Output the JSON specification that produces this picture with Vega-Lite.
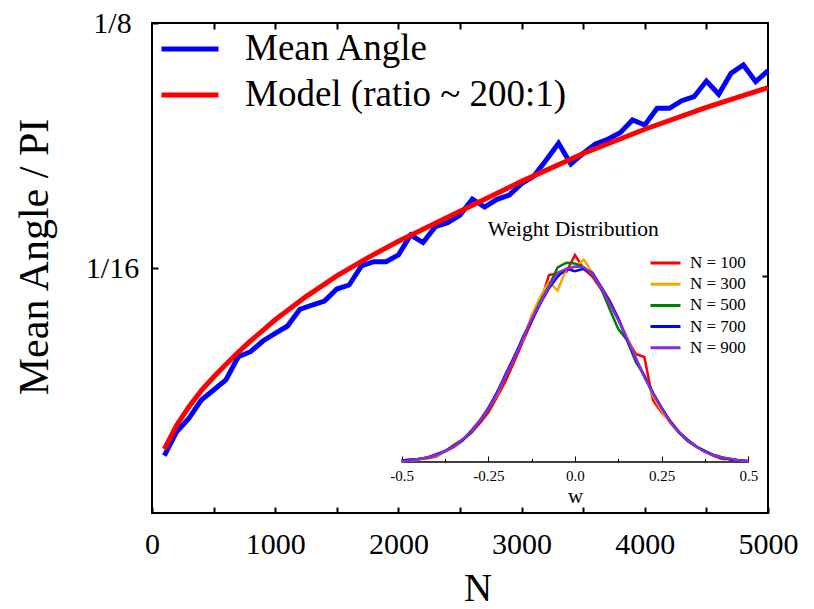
{
  "$schema": "https://vega.github.io/schema/vega-lite/v6.json",
  "width": 616,
  "height": 490,
  "autosize": {"type": "none"},
  "padding": {"left": 152, "top": 23, "right": 46, "bottom": 96},
  "background": "white",
  "config": {
    "font": "Liberation Serif",
    "view": {"stroke": "black", "strokeWidth": 2},
    "axis": {"domain": false, "grid": false, "labelColor": "black", "titleColor": "black", "tickColor": "black", "titleFontWeight": "normal"},
    "legend": {"labelColor": "black", "labelLimit": 1000}
  },
  "datasets": {
    "angle": [
      {"N": 100, "v": 0.01462, "series": "Mean Angle"},
      {"N": 200, "v": 0.02074, "series": "Mean Angle"},
      {"N": 300, "v": 0.02416, "series": "Mean Angle"},
      {"N": 400, "v": 0.02883, "series": "Mean Angle"},
      {"N": 500, "v": 0.03138, "series": "Mean Angle"},
      {"N": 600, "v": 0.03393, "series": "Mean Angle"},
      {"N": 700, "v": 0.03987, "series": "Mean Angle"},
      {"N": 800, "v": 0.04115, "series": "Mean Angle"},
      {"N": 900, "v": 0.04388, "series": "Mean Angle"},
      {"N": 1000, "v": 0.04584, "series": "Mean Angle"},
      {"N": 1100, "v": 0.04770, "series": "Mean Angle"},
      {"N": 1200, "v": 0.05196, "series": "Mean Angle"},
      {"N": 1300, "v": 0.05306, "series": "Mean Angle"},
      {"N": 1400, "v": 0.05408, "series": "Mean Angle"},
      {"N": 1500, "v": 0.05714, "series": "Mean Angle"},
      {"N": 1600, "v": 0.05816, "series": "Mean Angle"},
      {"N": 1700, "v": 0.06301, "series": "Mean Angle"},
      {"N": 1800, "v": 0.06411, "series": "Mean Angle"},
      {"N": 1900, "v": 0.06411, "series": "Mean Angle"},
      {"N": 2000, "v": 0.06582, "series": "Mean Angle"},
      {"N": 2100, "v": 0.07092, "series": "Mean Angle"},
      {"N": 2200, "v": 0.06900, "series": "Mean Angle"},
      {"N": 2300, "v": 0.07304, "series": "Mean Angle"},
      {"N": 2400, "v": 0.07406, "series": "Mean Angle"},
      {"N": 2500, "v": 0.07602, "series": "Mean Angle"},
      {"N": 2600, "v": 0.08010, "series": "Mean Angle"},
      {"N": 2700, "v": 0.07806, "series": "Mean Angle"},
      {"N": 2800, "v": 0.08003, "series": "Mean Angle"},
      {"N": 2900, "v": 0.08112, "series": "Mean Angle"},
      {"N": 3000, "v": 0.08401, "series": "Mean Angle"},
      {"N": 3100, "v": 0.08597, "series": "Mean Angle"},
      {"N": 3200, "v": 0.09005, "series": "Mean Angle"},
      {"N": 3300, "v": 0.09431, "series": "Mean Angle"},
      {"N": 3400, "v": 0.08903, "series": "Mean Angle"},
      {"N": 3500, "v": 0.09176, "series": "Mean Angle"},
      {"N": 3600, "v": 0.09413, "series": "Mean Angle"},
      {"N": 3700, "v": 0.09533, "series": "Mean Angle"},
      {"N": 3800, "v": 0.09702, "series": "Mean Angle"},
      {"N": 3900, "v": 0.10025, "series": "Mean Angle"},
      {"N": 4000, "v": 0.09898, "series": "Mean Angle"},
      {"N": 4100, "v": 0.10324, "series": "Mean Angle"},
      {"N": 4200, "v": 0.10324, "series": "Mean Angle"},
      {"N": 4300, "v": 0.10518, "series": "Mean Angle"},
      {"N": 4400, "v": 0.10620, "series": "Mean Angle"},
      {"N": 4500, "v": 0.11020, "series": "Mean Angle"},
      {"N": 4600, "v": 0.10681, "series": "Mean Angle"},
      {"N": 4700, "v": 0.11217, "series": "Mean Angle"},
      {"N": 4800, "v": 0.11428, "series": "Mean Angle"},
      {"N": 4900, "v": 0.11003, "series": "Mean Angle"},
      {"N": 5000, "v": 0.11283, "series": "Mean Angle"}
    ],
    "model": [
      {"N": 100, "v": 0.0163, "series": "Model (ratio ~ 200:1)"},
      {"N": 200, "v": 0.0224, "series": "Model (ratio ~ 200:1)"},
      {"N": 300, "v": 0.0271, "series": "Model (ratio ~ 200:1)"},
      {"N": 400, "v": 0.0312, "series": "Model (ratio ~ 200:1)"},
      {"N": 500, "v": 0.0347, "series": "Model (ratio ~ 200:1)"},
      {"N": 600, "v": 0.0379, "series": "Model (ratio ~ 200:1)"},
      {"N": 700, "v": 0.0410, "series": "Model (ratio ~ 200:1)"},
      {"N": 800, "v": 0.0439, "series": "Model (ratio ~ 200:1)"},
      {"N": 900, "v": 0.0466, "series": "Model (ratio ~ 200:1)"},
      {"N": 1000, "v": 0.0493, "series": "Model (ratio ~ 200:1)"},
      {"N": 1250, "v": 0.0552, "series": "Model (ratio ~ 200:1)"},
      {"N": 1500, "v": 0.0605, "series": "Model (ratio ~ 200:1)"},
      {"N": 1750, "v": 0.0651, "series": "Model (ratio ~ 200:1)"},
      {"N": 2000, "v": 0.0693, "series": "Model (ratio ~ 200:1)"},
      {"N": 2500, "v": 0.0770, "series": "Model (ratio ~ 200:1)"},
      {"N": 3000, "v": 0.0846, "series": "Model (ratio ~ 200:1)"},
      {"N": 3500, "v": 0.0917, "series": "Model (ratio ~ 200:1)"},
      {"N": 4000, "v": 0.0979, "series": "Model (ratio ~ 200:1)"},
      {"N": 4500, "v": 0.1035, "series": "Model (ratio ~ 200:1)"},
      {"N": 5000, "v": 0.1085, "series": "Model (ratio ~ 200:1)"}
    ],
    "dist": [
      {"s": "N = 100", "w": -0.5, "d": 0.02}, {"s": "N = 100", "w": -0.475, "d": 0.03}, {"s": "N = 100", "w": -0.45, "d": 0.04}, {"s": "N = 100", "w": -0.425, "d": 0.05}, {"s": "N = 100", "w": -0.4, "d": 0.07}, {"s": "N = 100", "w": -0.375, "d": 0.14}, {"s": "N = 100", "w": -0.35, "d": 0.22}, {"s": "N = 100", "w": -0.325, "d": 0.29}, {"s": "N = 100", "w": -0.3, "d": 0.37}, {"s": "N = 100", "w": -0.275, "d": 0.50}, {"s": "N = 100", "w": -0.25, "d": 0.64}, {"s": "N = 100", "w": -0.225, "d": 0.84}, {"s": "N = 100", "w": -0.2, "d": 1.05}, {"s": "N = 100", "w": -0.175, "d": 1.30}, {"s": "N = 100", "w": -0.15, "d": 1.56}, {"s": "N = 100", "w": -0.125, "d": 1.82}, {"s": "N = 100", "w": -0.1, "d": 2.06}, {"s": "N = 100", "w": -0.075, "d": 2.42}, {"s": "N = 100", "w": -0.05, "d": 2.44}, {"s": "N = 100", "w": -0.025, "d": 2.46}, {"s": "N = 100", "w": 0, "d": 2.68}, {"s": "N = 100", "w": 0.025, "d": 2.50}, {"s": "N = 100", "w": 0.05, "d": 2.40}, {"s": "N = 100", "w": 0.075, "d": 2.24}, {"s": "N = 100", "w": 0.1, "d": 2.06}, {"s": "N = 100", "w": 0.125, "d": 1.84}, {"s": "N = 100", "w": 0.15, "d": 1.60}, {"s": "N = 100", "w": 0.175, "d": 1.40}, {"s": "N = 100", "w": 0.2, "d": 1.36}, {"s": "N = 100", "w": 0.225, "d": 0.80}, {"s": "N = 100", "w": 0.25, "d": 0.64}, {"s": "N = 100", "w": 0.275, "d": 0.52}, {"s": "N = 100", "w": 0.3, "d": 0.38}, {"s": "N = 100", "w": 0.325, "d": 0.28}, {"s": "N = 100", "w": 0.35, "d": 0.20}, {"s": "N = 100", "w": 0.375, "d": 0.13}, {"s": "N = 100", "w": 0.4, "d": 0.08}, {"s": "N = 100", "w": 0.425, "d": 0.04}, {"s": "N = 100", "w": 0.45, "d": 0.04}, {"s": "N = 100", "w": 0.475, "d": 0.02}, {"s": "N = 100", "w": 0.5, "d": 0.01},
      {"s": "N = 300", "w": -0.5, "d": 0.01}, {"s": "N = 300", "w": -0.475, "d": 0.02}, {"s": "N = 300", "w": -0.45, "d": 0.03}, {"s": "N = 300", "w": -0.425, "d": 0.06}, {"s": "N = 300", "w": -0.4, "d": 0.08}, {"s": "N = 300", "w": -0.375, "d": 0.13}, {"s": "N = 300", "w": -0.35, "d": 0.19}, {"s": "N = 300", "w": -0.325, "d": 0.27}, {"s": "N = 300", "w": -0.3, "d": 0.40}, {"s": "N = 300", "w": -0.275, "d": 0.54}, {"s": "N = 300", "w": -0.25, "d": 0.70}, {"s": "N = 300", "w": -0.225, "d": 0.87}, {"s": "N = 300", "w": -0.2, "d": 1.13}, {"s": "N = 300", "w": -0.175, "d": 1.38}, {"s": "N = 300", "w": -0.15, "d": 1.58}, {"s": "N = 300", "w": -0.125, "d": 1.90}, {"s": "N = 300", "w": -0.1, "d": 2.14}, {"s": "N = 300", "w": -0.075, "d": 2.33}, {"s": "N = 300", "w": -0.05, "d": 2.22}, {"s": "N = 300", "w": -0.025, "d": 2.50}, {"s": "N = 300", "w": 0, "d": 2.52}, {"s": "N = 300", "w": 0.025, "d": 2.62}, {"s": "N = 300", "w": 0.05, "d": 2.45}, {"s": "N = 300", "w": 0.075, "d": 2.28}, {"s": "N = 300", "w": 0.1, "d": 2.10}, {"s": "N = 300", "w": 0.125, "d": 1.85}, {"s": "N = 300", "w": 0.15, "d": 1.62}, {"s": "N = 300", "w": 0.175, "d": 1.35}, {"s": "N = 300", "w": 0.2, "d": 1.12}, {"s": "N = 300", "w": 0.225, "d": 0.86}, {"s": "N = 300", "w": 0.25, "d": 0.66}, {"s": "N = 300", "w": 0.275, "d": 0.50}, {"s": "N = 300", "w": 0.3, "d": 0.38}, {"s": "N = 300", "w": 0.325, "d": 0.29}, {"s": "N = 300", "w": 0.35, "d": 0.20}, {"s": "N = 300", "w": 0.375, "d": 0.13}, {"s": "N = 300", "w": 0.4, "d": 0.09}, {"s": "N = 300", "w": 0.425, "d": 0.06}, {"s": "N = 300", "w": 0.45, "d": 0.03}, {"s": "N = 300", "w": 0.475, "d": 0.02}, {"s": "N = 300", "w": 0.5, "d": 0.01},
      {"s": "N = 500", "w": -0.5, "d": 0.01}, {"s": "N = 500", "w": -0.475, "d": 0.02}, {"s": "N = 500", "w": -0.45, "d": 0.04}, {"s": "N = 500", "w": -0.425, "d": 0.06}, {"s": "N = 500", "w": -0.4, "d": 0.09}, {"s": "N = 500", "w": -0.375, "d": 0.14}, {"s": "N = 500", "w": -0.35, "d": 0.21}, {"s": "N = 500", "w": -0.325, "d": 0.28}, {"s": "N = 500", "w": -0.3, "d": 0.38}, {"s": "N = 500", "w": -0.275, "d": 0.52}, {"s": "N = 500", "w": -0.25, "d": 0.68}, {"s": "N = 500", "w": -0.225, "d": 0.90}, {"s": "N = 500", "w": -0.2, "d": 1.10}, {"s": "N = 500", "w": -0.175, "d": 1.35}, {"s": "N = 500", "w": -0.15, "d": 1.62}, {"s": "N = 500", "w": -0.125, "d": 1.84}, {"s": "N = 500", "w": -0.1, "d": 2.08}, {"s": "N = 500", "w": -0.075, "d": 2.28}, {"s": "N = 500", "w": -0.05, "d": 2.52}, {"s": "N = 500", "w": -0.025, "d": 2.58}, {"s": "N = 500", "w": 0, "d": 2.57}, {"s": "N = 500", "w": 0.025, "d": 2.52}, {"s": "N = 500", "w": 0.05, "d": 2.43}, {"s": "N = 500", "w": 0.075, "d": 2.25}, {"s": "N = 500", "w": 0.1, "d": 1.98}, {"s": "N = 500", "w": 0.125, "d": 1.72}, {"s": "N = 500", "w": 0.15, "d": 1.58}, {"s": "N = 500", "w": 0.175, "d": 1.30}, {"s": "N = 500", "w": 0.2, "d": 1.12}, {"s": "N = 500", "w": 0.225, "d": 0.90}, {"s": "N = 500", "w": 0.25, "d": 0.70}, {"s": "N = 500", "w": 0.275, "d": 0.52}, {"s": "N = 500", "w": 0.3, "d": 0.38}, {"s": "N = 500", "w": 0.325, "d": 0.27}, {"s": "N = 500", "w": 0.35, "d": 0.20}, {"s": "N = 500", "w": 0.375, "d": 0.14}, {"s": "N = 500", "w": 0.4, "d": 0.09}, {"s": "N = 500", "w": 0.425, "d": 0.05}, {"s": "N = 500", "w": 0.45, "d": 0.04}, {"s": "N = 500", "w": 0.475, "d": 0.02}, {"s": "N = 500", "w": 0.5, "d": 0.01},
      {"s": "N = 700", "w": -0.5, "d": 0.02}, {"s": "N = 700", "w": -0.475, "d": 0.03}, {"s": "N = 700", "w": -0.45, "d": 0.04}, {"s": "N = 700", "w": -0.425, "d": 0.06}, {"s": "N = 700", "w": -0.4, "d": 0.10}, {"s": "N = 700", "w": -0.375, "d": 0.14}, {"s": "N = 700", "w": -0.35, "d": 0.20}, {"s": "N = 700", "w": -0.325, "d": 0.28}, {"s": "N = 700", "w": -0.3, "d": 0.40}, {"s": "N = 700", "w": -0.275, "d": 0.53}, {"s": "N = 700", "w": -0.25, "d": 0.70}, {"s": "N = 700", "w": -0.225, "d": 0.90}, {"s": "N = 700", "w": -0.2, "d": 1.14}, {"s": "N = 700", "w": -0.175, "d": 1.36}, {"s": "N = 700", "w": -0.15, "d": 1.61}, {"s": "N = 700", "w": -0.125, "d": 1.83}, {"s": "N = 700", "w": -0.1, "d": 2.05}, {"s": "N = 700", "w": -0.075, "d": 2.25}, {"s": "N = 700", "w": -0.05, "d": 2.40}, {"s": "N = 700", "w": -0.025, "d": 2.50}, {"s": "N = 700", "w": 0, "d": 2.47}, {"s": "N = 700", "w": 0.025, "d": 2.50}, {"s": "N = 700", "w": 0.05, "d": 2.45}, {"s": "N = 700", "w": 0.075, "d": 2.27}, {"s": "N = 700", "w": 0.1, "d": 2.08}, {"s": "N = 700", "w": 0.125, "d": 1.86}, {"s": "N = 700", "w": 0.15, "d": 1.58}, {"s": "N = 700", "w": 0.175, "d": 1.34}, {"s": "N = 700", "w": 0.2, "d": 1.11}, {"s": "N = 700", "w": 0.225, "d": 0.89}, {"s": "N = 700", "w": 0.25, "d": 0.70}, {"s": "N = 700", "w": 0.275, "d": 0.53}, {"s": "N = 700", "w": 0.3, "d": 0.39}, {"s": "N = 700", "w": 0.325, "d": 0.29}, {"s": "N = 700", "w": 0.35, "d": 0.20}, {"s": "N = 700", "w": 0.375, "d": 0.14}, {"s": "N = 700", "w": 0.4, "d": 0.09}, {"s": "N = 700", "w": 0.425, "d": 0.06}, {"s": "N = 700", "w": 0.45, "d": 0.03}, {"s": "N = 700", "w": 0.475, "d": 0.02}, {"s": "N = 700", "w": 0.5, "d": 0.01},
      {"s": "N = 900", "w": -0.5, "d": 0.01}, {"s": "N = 900", "w": -0.475, "d": 0.02}, {"s": "N = 900", "w": -0.45, "d": 0.04}, {"s": "N = 900", "w": -0.425, "d": 0.06}, {"s": "N = 900", "w": -0.4, "d": 0.09}, {"s": "N = 900", "w": -0.375, "d": 0.14}, {"s": "N = 900", "w": -0.35, "d": 0.20}, {"s": "N = 900", "w": -0.325, "d": 0.29}, {"s": "N = 900", "w": -0.3, "d": 0.39}, {"s": "N = 900", "w": -0.275, "d": 0.53}, {"s": "N = 900", "w": -0.25, "d": 0.69}, {"s": "N = 900", "w": -0.225, "d": 0.88}, {"s": "N = 900", "w": -0.2, "d": 1.12}, {"s": "N = 900", "w": -0.175, "d": 1.34}, {"s": "N = 900", "w": -0.15, "d": 1.60}, {"s": "N = 900", "w": -0.125, "d": 1.85}, {"s": "N = 900", "w": -0.1, "d": 2.06}, {"s": "N = 900", "w": -0.075, "d": 2.27}, {"s": "N = 900", "w": -0.05, "d": 2.45}, {"s": "N = 900", "w": -0.025, "d": 2.50}, {"s": "N = 900", "w": 0, "d": 2.53}, {"s": "N = 900", "w": 0.025, "d": 2.52}, {"s": "N = 900", "w": 0.05, "d": 2.44}, {"s": "N = 900", "w": 0.075, "d": 2.26}, {"s": "N = 900", "w": 0.1, "d": 2.05}, {"s": "N = 900", "w": 0.125, "d": 1.84}, {"s": "N = 900", "w": 0.15, "d": 1.60}, {"s": "N = 900", "w": 0.175, "d": 1.35}, {"s": "N = 900", "w": 0.2, "d": 1.10}, {"s": "N = 900", "w": 0.225, "d": 0.89}, {"s": "N = 900", "w": 0.25, "d": 0.69}, {"s": "N = 900", "w": 0.275, "d": 0.52}, {"s": "N = 900", "w": 0.3, "d": 0.39}, {"s": "N = 900", "w": 0.325, "d": 0.28}, {"s": "N = 900", "w": 0.35, "d": 0.20}, {"s": "N = 900", "w": 0.375, "d": 0.13}, {"s": "N = 900", "w": 0.4, "d": 0.09}, {"s": "N = 900", "w": 0.425, "d": 0.06}, {"s": "N = 900", "w": 0.45, "d": 0.04}, {"s": "N = 900", "w": 0.475, "d": 0.02}, {"s": "N = 900", "w": 0.5, "d": 0.01}
    ]
  },
  "layer": [
    {
      "encoding": {
        "x": {"field": "N", "type": "quantitative", "scale": {"domain": [0, 5000], "nice": false, "zero": false},
          "axis": {"orient": "bottom", "values": [0, 500, 1000, 1500, 2000, 2500, 3000, 3500, 4000, 4500, 5000],
            "labelExpr": "datum.value % 1000 == 0 ? '' + datum.value : ''", "labelFontSize": 30, "labelPadding": 22,
            "labelFlush": false, "labelOverlap": false, "tickSize": -6, "tickWidth": 2,
            "title": "N", "titleFontSize": 39, "titleX": 325.5, "titleY": 87.5, "titleBaseline": "alphabetic", "titleAlign": "center"}},
        "y": {"field": "v", "type": "quantitative", "scale": {"domain": [0, 0.125], "nice": false, "zero": false},
          "axis": {"orient": "left", "values": [0.0625, 0.125], "labelExpr": "datum.value > 0.1 ? '1/8' : '1/16'",
            "labelFontSize": 30, "labelAlign": "center", "labelPadding": 46, "tickSize": -6, "tickWidth": 2,
            "title": "Mean Angle / PI", "titleFontSize": 42, "titleX": -105, "titleY": 233.5, "titleAngle": -90,
            "titleBaseline": "alphabetic", "titleAlign": "center"}},
        "color": {"field": "series", "type": "nominal",
          "scale": {"domain": ["Mean Angle", "Model (ratio ~ 200:1)"], "range": ["#0000ff", "#ff0000"]},
          "legend": {"title": null, "orient": "none", "legendX": 7, "legendY": 7.5, "symbolType": "stroke",
            "symbolSize": 3249, "symbolStrokeWidth": 5, "labelFontSize": 37, "labelOffset": 24, "rowPadding": 8, "clipHeight": 37}}
      },
      "layer": [
        {"data": {"name": "angle"}, "mark": {"type": "line", "strokeWidth": 5}},
        {"data": {"name": "model"}, "mark": {"type": "line", "strokeWidth": 5}}
      ]
    },
    {
      "data": {"values": [{"N": 0, "v": 0}, {"N": 5000, "v": 0.125}]},
      "mark": {"type": "point", "opacity": 0},
      "encoding": {
        "x": {"field": "N", "type": "quantitative", "scale": {"domain": [0, 5000], "nice": false, "zero": false},
          "axis": {"orient": "top", "values": [500, 1000, 1500, 2000, 2500, 3000, 3500, 4000, 4500], "labels": false,
            "tickSize": -6, "tickWidth": 2, "title": null}},
        "y": {"field": "v", "type": "quantitative", "scale": {"domain": [0, 0.125], "nice": false, "zero": false},
          "axis": {"orient": "right", "values": [0.0605], "labels": false, "tickSize": -6, "tickWidth": 2, "title": null}}
      }
    },
    {
      "data": {"values": [{"w": -0.5, "d": 0}]},
      "mark": {"type": "point", "opacity": 0},
      "encoding": {
        "x": {"field": "w", "type": "quantitative", "scale": {"domain": [-1.2202, 0.5568], "nice": false, "zero": false},
          "axis": {"orient": "bottom", "offset": -51, "values": [-0.375, -0.125, 0.125, 0.375], "labels": false,
            "tickSize": -3.5, "tickWidth": 1, "title": null}},
        "y": {"field": "d", "type": "quantitative", "scale": {"domain": [-0.66, 5.683], "nice": false, "zero": false}, "axis": null}
      }
    },
    {
      "data": {"values": [{"w": -0.5, "d": 0}]},
      "mark": {"type": "point", "opacity": 0},
      "encoding": {
        "x": {"field": "w", "type": "quantitative", "scale": {"domain": [-1.2202, 0.5568], "nice": false, "zero": false},
          "axis": {"orient": "bottom", "offset": -51,
            "values": [-0.5, -0.25, 0, 0.25, 0.5],
            "labelExpr": "datum.value == 0 ? '0.0' : '' + datum.value",
            "labelFontSize": 15, "labelPadding": 12, "labelFlush": false, "labelOverlap": false,
            "tickSize": -6, "tickWidth": 1, "title": "w", "titleFontSize": 21, "titleX": 423, "titleY": 40,
            "titleBaseline": "alphabetic", "titleAlign": "center"}},
        "y": {"field": "d", "type": "quantitative", "scale": {"domain": [-0.66, 5.683], "nice": false, "zero": false}, "axis": null}
      }
    },
    {
      "layer": [
        {
          "data": {"values": [{}]},
          "mark": {"type": "rule", "strokeWidth": 1.3, "color": "black"},
          "encoding": {
            "x": {"datum": -0.5, "type": "quantitative", "scale": {"domain": [-1.2202, 0.5568], "nice": false, "zero": false}, "axis": null},
            "x2": {"datum": 0.5},
            "y": {"datum": 0, "type": "quantitative", "scale": {"domain": [-0.66, 5.683], "nice": false, "zero": false}, "axis": null}
          }
        },
        {
          "data": {"name": "dist"},
          "mark": {"type": "line", "strokeWidth": 2.5},
          "encoding": {
            "x": {"field": "w", "type": "quantitative", "scale": {"domain": [-1.2202, 0.5568], "nice": false, "zero": false}, "axis": null},
            "y": {"field": "d", "type": "quantitative", "scale": {"domain": [-0.66, 5.683], "nice": false, "zero": false}, "axis": null},
            "color": {"field": "s", "type": "nominal",
              "scale": {"domain": ["N = 100", "N = 300", "N = 500", "N = 700", "N = 900"],
                "range": ["#ff0000", "#ffa500", "#008000", "#0000ff", "#8a2be2"]},
              "legend": {"title": null, "orient": "none", "legendX": 497, "legendY": 231.5, "symbolType": "stroke",
                "symbolSize": 900, "symbolStrokeWidth": 3, "labelFontSize": 17, "labelOffset": 8, "rowPadding": 3.2, "clipHeight": 17}}
          }
        },
        {
          "data": {"values": [{}]},
          "mark": {"type": "text", "text": "Weight Distribution", "fontSize": 21.5, "color": "black"},
          "encoding": {
            "x": {"datum": -0.005, "type": "quantitative", "scale": {"domain": [-1.2202, 0.5568], "nice": false, "zero": false}, "axis": null},
            "y": {"datum": 3.0, "type": "quantitative", "scale": {"domain": [-0.66, 5.683], "nice": false, "zero": false}, "axis": null}
          }
        }
      ]
    }
  ],
  "resolve": {"scale": {"x": "independent", "y": "independent", "color": "independent"}}
}
